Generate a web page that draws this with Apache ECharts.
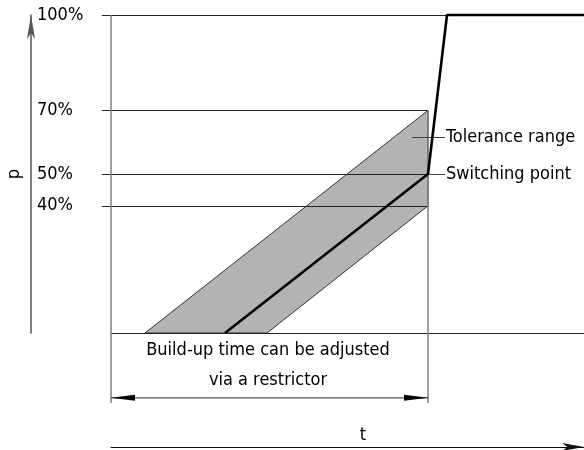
<!DOCTYPE html>
<html>
<head>
<meta charset="utf-8">
<script src="https://cdn.jsdelivr.net/npm/echarts@6/dist/echarts.min.js"></script>
<style>html,body{margin:0;padding:0;background:#fff}#c{width:584px;height:450px}</style>
</head>
<body>
<div id="c"></div>
<script>
// ---- data (x: time units, y: pressure %) ----
const yTickValues = [40, 50, 70, 100];
const refLines = [[[-9, 100], [473, 100]], [[-9, 70], [317, 70]], [[-9, 50], [317, 50]], [[-9, 40], [317, 40]], [[0, 0], [473, 0]]];
const toleranceBand = [[34, 0], [317, 70], [317, 40], [156, 0]];
const pressureCurve = [[114, 0], [317, 50], [336, 100], [473, 100]];
const verticalMarks = [[[0, 100], [0, -22]], [[317, 70], [317, -22]]];
const dimensionArrow = [[0, -20.4], [317, -20.4]];
const leaderLines = [[[301, 61.6], [334, 61.6]], [[317, 50], [334, 50]]];
const noteTexts = ['Tolerance range', 'Switching point'];
const notePoints = [[335, 61.6], [335, 50]];
const buildUpText = 'Build-up time can be adjusted\nvia a restrictor';
const buildUpPoint = [157, -10.3];

const FONT = "'Liberation Sans Narrow','DejaVu Sans Condensed','Roboto Condensed',sans-serif";
const TXT = '#000';
const FS = 18;

const chart = echarts.init(document.getElementById('c'), null, {renderer: 'canvas'});

chart.setOption({
  animation: false,
  backgroundColor: '#fff',
  grid: {left: 111, right: 0, top: 15, bottom: 117, containLabel: false, outerBoundsMode: 'none'},
  xAxis: {
    type: 'value', min: 0, max: 473,
    offset: 114,
    axisLine: {show: true, onZero: false, lineStyle: {color: '#111', width: 1.2}, symbol: ['none', 'arrow'], symbolSize: [6, 22]},
    axisTick: {show: false}, axisLabel: {show: false}, splitLine: {show: false},
    name: 't', nameLocation: 'middle', nameGap: -21,
    nameTextStyle: {fontFamily: FONT, fontSize: FS, color: TXT, padding: [0, 0, 0, 31]}
  },
  yAxis: {
    type: 'value', min: 0, max: 100, interval: 10,
    offset: 80,
    axisLine: {show: true, onZero: false, lineStyle: {color: '#555', width: 1.5}, symbol: ['none', 'arrow'], symbolSize: [6, 24]},
    axisTick: {show: false}, splitLine: {show: false},
    axisLabel: {
      inside: true, margin: 6, fontFamily: FONT, fontSize: FS, color: TXT,
      formatter: v => yTickValues.indexOf(v) >= 0 ? v + '%' : ''
    },
    name: 'p', nameLocation: 'middle', nameGap: 5, nameRotate: 90,
    nameTextStyle: {fontFamily: FONT, fontSize: FS, color: TXT}
  },
  series: [
    {
      type: 'custom', z: 1, clip: false,
      data: toleranceBand,
      encode: {x: 0, y: 1},
      renderItem: (params, api) => {
        if (params.dataIndex !== 0) return null;
        return {
          type: 'polygon',
          shape: {points: toleranceBand.map(p => api.coord(p))},
          style: {fill: '#b3b3b3', stroke: '#333', lineWidth: 1}
        };
      }
    },
    {
      type: 'lines', coordinateSystem: 'cartesian2d', z: 3, clip: false,
      data: refLines.map(c => ({coords: c})),
      lineStyle: {color: '#222', width: 1, opacity: 1}
    },
    {
      type: 'lines', coordinateSystem: 'cartesian2d', z: 3, clip: false,
      data: verticalMarks.map(c => ({coords: c})),
      lineStyle: {color: '#808080', width: 1.5, opacity: 1}
    },
    {
      type: 'lines', coordinateSystem: 'cartesian2d', z: 3, clip: false,
      data: leaderLines.map(c => ({coords: c})),
      lineStyle: {color: '#444', width: 1, opacity: 1}
    },
    {
      type: 'custom', z: 4, clip: false,
      data: dimensionArrow,
      encode: {x: 0, y: 1},
      renderItem: (params, api) => {
        if (params.dataIndex !== 0) return null;
        const a = api.coord(dimensionArrow[0]);
        const b = api.coord(dimensionArrow[1]);
        const L = 24, W = 3;
        return {
          type: 'group',
          children: [
            {type: 'line', shape: {x1: a[0], y1: a[1], x2: b[0], y2: b[1]}, style: {stroke: '#555', lineWidth: 1.2}},
            {type: 'polygon', shape: {points: [[a[0], a[1]], [a[0] + L, a[1] - W], [a[0] + L, a[1] + W]]}, style: {fill: '#000'}},
            {type: 'polygon', shape: {points: [[b[0], b[1]], [b[0] - L, b[1] - W], [b[0] - L, b[1] + W]]}, style: {fill: '#000'}}
          ]
        };
      }
    },
    {
      type: 'line', z: 5, clip: false,
      data: pressureCurve,
      showSymbol: false, symbol: 'none',
      lineStyle: {color: '#000', width: 2.6}
    },
    {
      type: 'scatter', z: 6, clip: false,
      symbolSize: 0,
      data: notePoints.map((p, i) => ({value: p, name: noteTexts[i]})),
      label: {
        show: true, position: 'right', distance: 0, formatter: '{b}',
        fontFamily: FONT, fontSize: FS, color: TXT, opacity: 1
      }
    },
    {
      type: 'scatter', z: 6, clip: false,
      symbolSize: 0,
      data: [{value: buildUpPoint, name: buildUpText}],
      label: {
        show: true, position: 'inside', formatter: '{b}', align: 'center', verticalAlign: 'middle',
        lineHeight: 30, fontFamily: FONT, fontSize: FS, color: TXT, opacity: 1
      }
    }
  ]
});
</script>
</body>
</html>
